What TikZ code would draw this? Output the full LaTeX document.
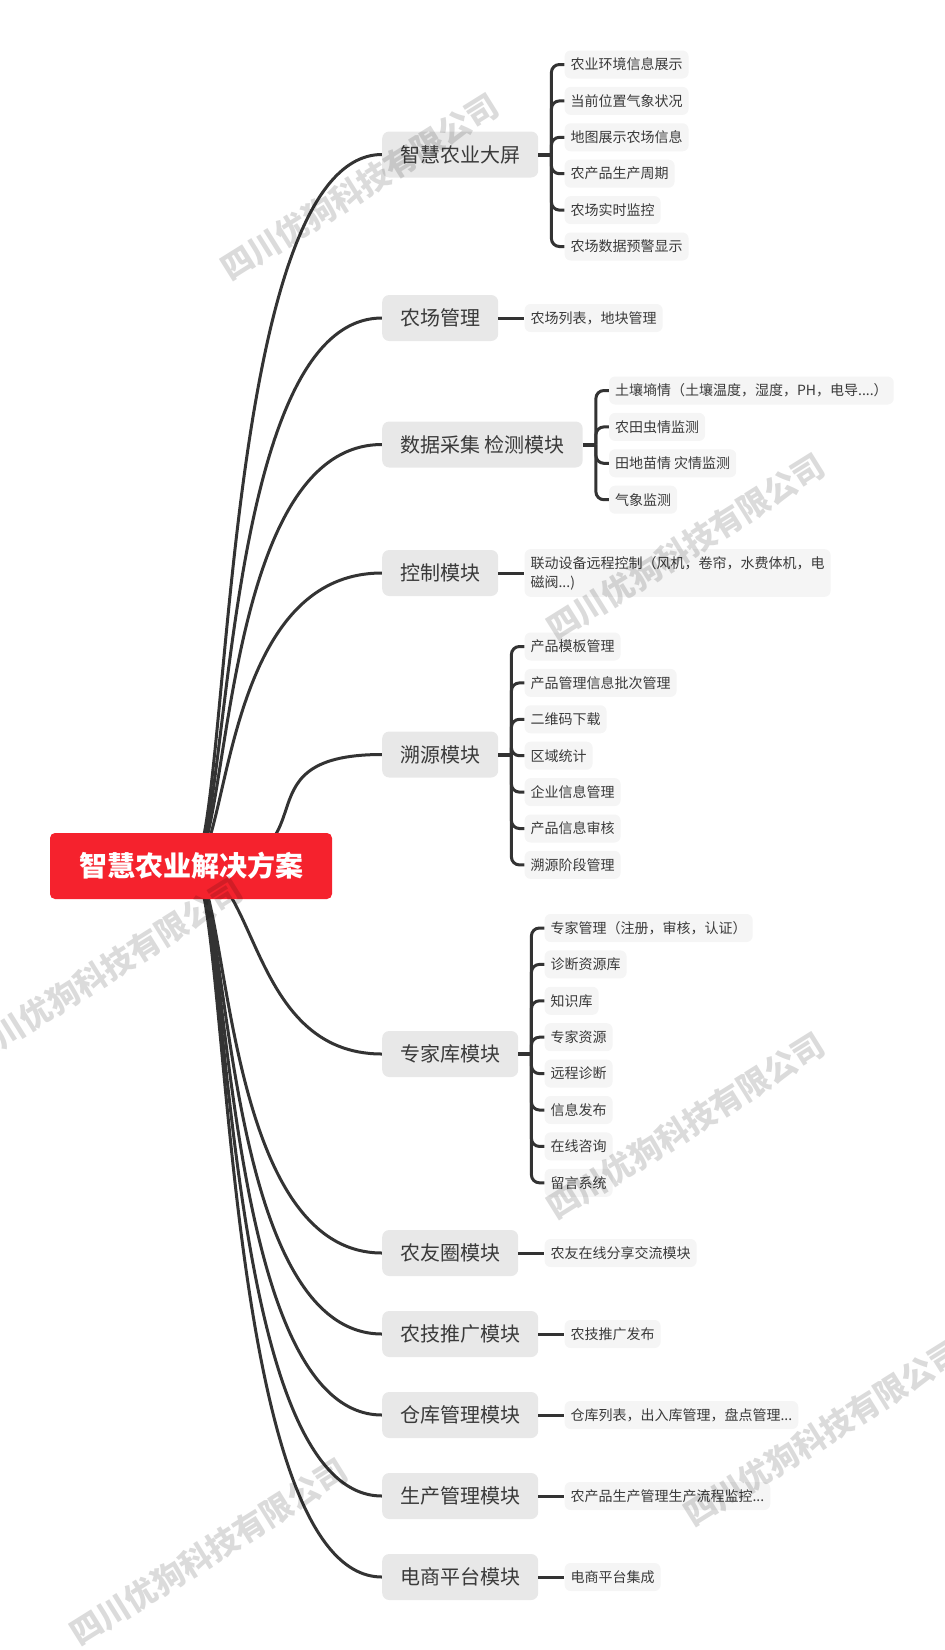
\documentclass[tikz,border=0pt]{standalone}
\usepackage{fontspec}
\setmainfont{Noto Sans CJK SC}
\usetikzlibrary{positioning, backgrounds}
\definecolor{rojoRaiz}{HTML}{F5222D}
\definecolor{grisRama}{HTML}{E8E8E8}
\definecolor{grisHoja}{HTML}{F5F5F5}
\definecolor{grisLinea}{HTML}{333333}
\definecolor{grisTexto}{HTML}{3A3A3A}
\tikzset{
  cajaRaiz/.style={
    fill=rojoRaiz, rounded corners=5pt,
    minimum width=282pt, minimum height=66pt,
    text=white, font=\fontsize{28pt}{32pt}\selectfont\bfseries
  },
  cajaRama/.style={
    fill=grisRama, rounded corners=7pt, anchor=west,
    minimum height=46pt, inner xsep=18pt, inner ysep=0pt,
    text=grisTexto, font=\fontsize{20pt}{24pt}\selectfont
  },
  cajaHoja/.style={
    fill=grisHoja, rounded corners=6pt, align=left,
    minimum height=28pt, inner xsep=6pt, inner ysep=7pt,
    text=grisTexto, font=\fontsize{14pt}{19pt}\selectfont
  },
  lineaRama/.style={draw=grisLinea, line width=3pt},
  lineaTallo/.style={draw=grisLinea, line width=4pt},
  lineaHoja/.style={draw=grisLinea, line width=3pt, rounded corners=8pt},
  marcaAgua/.style={rotate=32, text=black, text opacity=0.14,
    font=\fontsize{32pt}{34pt}\selectfont\bfseries},
}

\begin{document}
\begin{tikzpicture}[x=1pt, y=-1pt, node distance=26pt]
    \useasboundingbox (0,0) rectangle (945,1650);
    \node[cajaRaiz] (raiz) at (191,866) {智慧农业解决方案};
    % ramas principales
    \node[cajaRama] (m1) at (382,154.5) {智慧农业大屏};
    \node[cajaRama] (m2) at (382,318) {农场管理};
    \node[cajaRama] (m3) at (382,444.5) {数据采集 检测模块};
    \node[cajaRama] (m4) at (382,573) {控制模块};
    \node[cajaRama] (m5) at (382,754.5) {溯源模块};
    \node[cajaRama] (m6) at (382,1054) {专家库模块};
    \node[cajaRama] (m7) at (382,1253) {农友圈模块};
    \node[cajaRama] (m8) at (382,1334) {农技推广模块};
    \node[cajaRama] (m9) at (382,1415) {仓库管理模块};
    \node[cajaRama] (m10) at (382,1496) {生产管理模块};
    \node[cajaRama] (m11) at (382,1577) {电商平台模块};
    \begin{pgfonlayer}{background}
      \draw[lineaRama] (raiz.center) .. controls +(40,0) and +(-165,0) .. (m1.west);
      \draw[lineaRama] (raiz.center) .. controls +(40,0) and +(-165,0) .. (m2.west);
      \draw[lineaRama] (raiz.center) .. controls +(40,0) and +(-165,0) .. (m3.west);
      \draw[lineaRama] (raiz.center) .. controls +(40,0) and +(-165,0) .. (m4.west);
      \draw[lineaRama] (raiz.center) .. controls +(153,0) and +(-155,0) .. (m5.west);
      \draw[lineaRama] (raiz.center) .. controls +(67,0) and +(-134,0) .. (m6.west);
      \draw[lineaRama] (raiz.center) .. controls +(40,0) and +(-165,0) .. (m7.west);
      \draw[lineaRama] (raiz.center) .. controls +(40,0) and +(-165,0) .. (m8.west);
      \draw[lineaRama] (raiz.center) .. controls +(40,0) and +(-165,0) .. (m9.west);
      \draw[lineaRama] (raiz.center) .. controls +(40,0) and +(-165,0) .. (m10.west);
      \draw[lineaRama] (raiz.center) .. controls +(40,0) and +(-165,0) .. (m11.west);
    \end{pgfonlayer}

    %智慧农业大屏
    \coordinate[right=13pt of m1] (b1);
    \node[cajaHoja, right=of m1, yshift=90pt] (h11) {农业环境信息展示};
    \node[cajaHoja, below=8pt of h11.south west, anchor=north west] (h12) {当前位置气象状况};
    \node[cajaHoja, below=8pt of h12.south west, anchor=north west] (h13) {地图展示农场信息};
    \node[cajaHoja, below=8pt of h13.south west, anchor=north west] (h14) {农产品生产周期};
    \node[cajaHoja, below=8pt of h14.south west, anchor=north west] (h15) {农场实时监控};
    \node[cajaHoja, below=8pt of h15.south west, anchor=north west] (h16) {农场数据预警显示};
    \draw[lineaTallo] (m1.east) -- (b1);
    \draw[lineaHoja] (b1) |- (h11.west);
    \draw[lineaHoja] (b1) |- (h12.west);
    \draw[lineaHoja] (b1) |- (h13.west);
    \draw[lineaHoja] (b1) |- (h14.west);
    \draw[lineaHoja] (b1) |- (h15.west);
    \draw[lineaHoja] (b1) |- (h16.west);

    % 农场管理
    \node[cajaHoja, right=of m2] (h21) {农场列表，地块管理};
    \draw[lineaRama] (m2.east) -- (h21.west);

    % 数据采集 检测模块
    \coordinate[right=13pt of m3] (b3);
    \node[cajaHoja, right=of m3, yshift=54pt] (h31) {土壤墒情（土壤温度，湿度，PH，电导....）};
    \node[cajaHoja, below=8pt of h31.south west, anchor=north west] (h32) {农田虫情监测};
    \node[cajaHoja, below=8pt of h32.south west, anchor=north west] (h33) {田地苗情 灾情监测};
    \node[cajaHoja, below=8pt of h33.south west, anchor=north west] (h34) {气象监测};
    \draw[lineaTallo] (m3.east) -- (b3);
    \draw[lineaHoja] (b3) |- (h31.west);
    \draw[lineaHoja] (b3) |- (h32.west);
    \draw[lineaHoja] (b3) |- (h33.west);
    \draw[lineaHoja] (b3) |- (h34.west);

    % 控制模块
    \node[cajaHoja, right=of m4] (h41) {联动设备远程控制（风机，卷帘，水费体机，电\\磁阀...)};
    \draw[lineaRama] (m4.east) -- (h41.west);

    % 溯源模块
    \coordinate[right=13pt of m5] (b5);
    \node[cajaHoja, right=of m5, yshift=108pt] (h51) {产品模板管理};
    \node[cajaHoja, below=8pt of h51.south west, anchor=north west] (h52) {产品管理信息批次管理};
    \node[cajaHoja, below=8pt of h52.south west, anchor=north west] (h53) {二维码下载};
    \node[cajaHoja, below=8pt of h53.south west, anchor=north west] (h54) {区域统计};
    \node[cajaHoja, below=8pt of h54.south west, anchor=north west] (h55) {企业信息管理};
    \node[cajaHoja, below=8pt of h55.south west, anchor=north west] (h56) {产品信息审核};
    \node[cajaHoja, below=8pt of h56.south west, anchor=north west] (h57) {溯源阶段管理};
    \draw[lineaTallo] (m5.east) -- (b5);
    \draw[lineaHoja] (b5) |- (h51.west);
    \draw[lineaHoja] (b5) |- (h52.west);
    \draw[lineaHoja] (b5) |- (h53.west);
    \draw[lineaHoja] (b5) |- (h54.west);
    \draw[lineaHoja] (b5) |- (h55.west);
    \draw[lineaHoja] (b5) |- (h56.west);
    \draw[lineaHoja] (b5) |- (h57.west);

    % 专家库模块
    \coordinate[right=13pt of m6] (b6);
    \node[cajaHoja, right=of m6, yshift=126pt] (h61) {专家管理（注册，审核，认证）};
    \node[cajaHoja, below=8pt of h61.south west, anchor=north west] (h62) {诊断资源库};
    \node[cajaHoja, below=8pt of h62.south west, anchor=north west] (h63) {知识库};
    \node[cajaHoja, below=8pt of h63.south west, anchor=north west] (h64) {专家资源};
    \node[cajaHoja, below=8pt of h64.south west, anchor=north west] (h65) {远程诊断};
    \node[cajaHoja, below=8pt of h65.south west, anchor=north west] (h66) {信息发布};
    \node[cajaHoja, below=8pt of h66.south west, anchor=north west] (h67) {在线咨询};
    \node[cajaHoja, below=8pt of h67.south west, anchor=north west] (h68) {留言系统};
    \draw[lineaTallo] (m6.east) -- (b6);
    \draw[lineaHoja] (b6) |- (h61.west);
    \draw[lineaHoja] (b6) |- (h62.west);
    \draw[lineaHoja] (b6) |- (h63.west);
    \draw[lineaHoja] (b6) |- (h64.west);
    \draw[lineaHoja] (b6) |- (h65.west);
    \draw[lineaHoja] (b6) |- (h66.west);
    \draw[lineaHoja] (b6) |- (h67.west);
    \draw[lineaHoja] (b6) |- (h68.west);

    % ramas con una sola hoja
    \node[cajaHoja, right=of m7] (h71) {农友在线分享交流模块};
    \node[cajaHoja, right=of m8] (h81) {农技推广发布};
    \node[cajaHoja, right=of m9] (h91) {仓库列表，出入库管理，盘点管理...};
    \node[cajaHoja, right=of m10] (h101) {农产品生产管理生产流程监控...};
    \node[cajaHoja, right=of m11] (h111) {电商平台集成};
    \draw[lineaRama] (m7.east) -- (h71.west);
    \draw[lineaRama] (m8.east) -- (h81.west);
    \draw[lineaRama] (m9.east) -- (h91.west);
    \draw[lineaRama] (m10.east) -- (h101.west);
    \draw[lineaRama] (m11.east) -- (h111.west);

    % marcas de agua
    \node[marcaAgua] (agua1) at (360,187) {四川优狗科技有限公司};
    \node[marcaAgua] (agua2) at (686,547) {四川优狗科技有限公司};
    \node[marcaAgua] (agua3) at (104,971) {四川优狗科技有限公司};
    \node[marcaAgua] (agua4) at (686,1126) {四川优狗科技有限公司};
    \node[marcaAgua] (agua5) at (823,1433) {四川优狗科技有限公司};
    \node[marcaAgua] (agua6) at (209,1552) {四川优狗科技有限公司};
\end{tikzpicture}
\end{document}
